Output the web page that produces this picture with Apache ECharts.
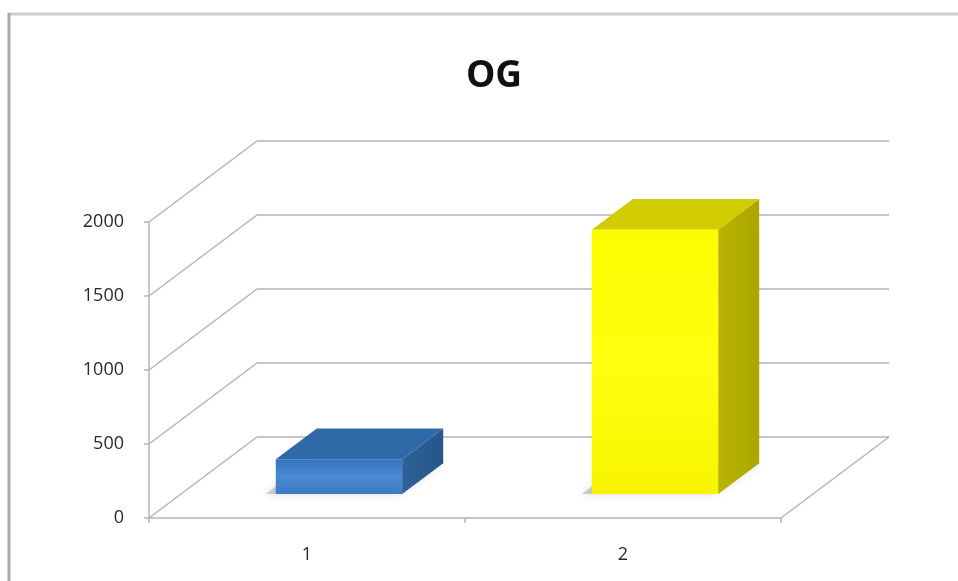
<!DOCTYPE html>
<html>
<head>
<meta charset="utf-8">
<script src="https://cdn.jsdelivr.net/npm/echarts@6/dist/echarts.min.js"></script>
<style>
html,body{margin:0;padding:0;background:#fff;}
#chart{width:958px;height:581px;}
</style>
</head>
<body>
<div id="chart"></div>
<script>
// ---- data ----
const categories = ['1', '2'];
const values = [235, 1785];
const yMin = 0, yMax = 2000, yInterval = 500;
const yTickValues = [0, 500, 1000, 1500, 2000];
const titleText = 'OG';

// ---- styles ----
const barStyles = [
  { front: ['#3674bc', '#4a8cd6', '#3a7ac2'], top: '#2f69a8', side: ['#2d6299', '#27558a'] },
  { front: ['#fcfc00', '#ffff10', '#f8f400'], top: '#d1cc00', side: ['#b8b400', '#aaa600'] }
];
const DX = 108, DY = -81;          // depth offset of back wall (px)
const BAR_Z0 = 0.296, BAR_DEPTH = 0.38, BAR_W = 0.40;
const LINE_COLOR = '#b4b4b4';
const FONT = "'Open Sans', 'Liberation Sans', sans-serif";

const G = { left: 149, right: 177, top: 222, bottom: 63 };

const chart = echarts.init(document.getElementById('chart'), null, { renderer: 'canvas' });

const option = {
  backgroundColor: '#ffffff',
  animation: false,
  title: {
    text: titleText, left: 489, textAlign: 'center', top: 53,
    textStyle: { fontFamily: FONT, fontWeight: 'bold', fontSize: 37, color: '#111' }
  },
  graphic: [
    { type: 'line', shape: { x1: 9, y1: 14, x2: 958, y2: 14 }, style: { stroke: '#cccccc', lineWidth: 3 }, silent: true },
    { type: 'line', shape: { x1: 9, y1: 13, x2: 9, y2: 581 }, style: { stroke: '#a9a9a9', lineWidth: 3 }, silent: true }
  ],
  grid: [
    { left: G.left, right: G.right, top: G.top, bottom: G.bottom },
    { left: G.left + DX, right: G.right - DX, top: G.top + DY, bottom: G.bottom - DY }
  ],
  xAxis: [
    {
      type: 'category', gridIndex: 0, data: categories,
      axisLine: { lineStyle: { color: LINE_COLOR, width: 1.5 } },
      axisTick: { show: true, length: 5, lineStyle: { color: LINE_COLOR, width: 1.5 } },
      axisLabel: { margin: 28, fontFamily: FONT, fontSize: 18, color: '#2a2a2a' },
      splitLine: { show: false }
    },
    {
      type: 'category', gridIndex: 1, data: categories, show: false
    }
  ],
  yAxis: [
    {
      type: 'value', gridIndex: 0, min: yMin, max: yMax, interval: yInterval,
      axisLine: { show: true, lineStyle: { color: LINE_COLOR, width: 1.5 } },
      axisTick: { show: true, length: 5, lineStyle: { color: LINE_COLOR, width: 1.5 } },
      axisLabel: { margin: 25, fontFamily: FONT, fontSize: 18, color: '#2a2a2a',
        formatter: function (v) { return String(v); } },
      splitLine: { show: false }
    },
    {
      type: 'value', gridIndex: 1, min: yMin, max: yMax, interval: yInterval,
      axisLine: { show: false }, axisTick: { show: false }, axisLabel: { show: false },
      splitLine: { show: true, lineStyle: { color: LINE_COLOR, width: 1.5 } }
    }
  ],
  series: [
    {
      // side-wall diagonals and floor right edge
      type: 'custom', xAxisIndex: 0, yAxisIndex: 0, silent: true, z: 1,
      data: yTickValues.map(v => [0, v]),
      renderItem: function (params, api) {
        const cs = params.coordSys;
        const v = api.value(1);
        const y = api.coord([0, v])[1];
        const children = [{
          type: 'line',
          shape: { x1: cs.x, y1: y, x2: cs.x + DX, y2: y + DY },
          style: { stroke: LINE_COLOR, lineWidth: 1.5 }
        }];
        if (v === yMin) {
          children.push({
            type: 'line',
            shape: { x1: cs.x + cs.width, y1: y, x2: cs.x + cs.width + DX, y2: y + DY },
            style: { stroke: LINE_COLOR, lineWidth: 1.5 }
          });
        }
        return { type: 'group', children: children };
      }
    },
    {
      type: 'custom', xAxisIndex: 0, yAxisIndex: 0, z: 5,
      data: values.map((v, i) => [i, v]),
      renderItem: function (params, api) {
        const c = api.value(0), v = api.value(1);
        const st = barStyles[params.dataIndex];
        const band = api.size([1, 0])[0];
        const base = api.coord([c, 0]);
        const top = api.coord([c, v]);
        const w = band * BAR_W;
        const ox = DX * BAR_Z0, oy = DY * BAR_Z0;
        const bdx = DX * BAR_DEPTH, bdy = DY * BAR_DEPTH;
        const x = base[0] + ox - w / 2;
        const yb = base[1] + oy;
        const yt = top[1] + oy;
        const h = yb - yt;
        return {
          type: 'group',
          children: [
            { // soft shadow on floor
              type: 'polygon',
              shape: { points: [[x - 10, yb], [x + w - 4, yb], [x + w + bdx, yb + bdy], [x + bdx - 10, yb + bdy]] },
              style: { fill: 'rgba(150,150,150,0.45)', shadowBlur: 8, shadowColor: 'rgba(120,120,120,0.6)' }
            },
            {
              type: 'polygon',
              shape: { points: [[x + w, yt], [x + w + bdx, yt + bdy], [x + w + bdx, yb + bdy], [x + w, yb]] },
              style: { fill: new echarts.graphic.LinearGradient(0, 0, 1, 0, [
                { offset: 0, color: st.side[0] }, { offset: 1, color: st.side[1] }]) }
            },
            {
              type: 'polygon',
              shape: { points: [[x, yt], [x + w, yt], [x + w + bdx, yt + bdy], [x + bdx, yt + bdy]] },
              style: { fill: st.top }
            },
            {
              type: 'rect',
              shape: { x: x, y: yt, width: w, height: h },
              style: { fill: new echarts.graphic.LinearGradient(0, 0, 0, 1, [
                { offset: 0, color: st.front[0] }, { offset: 0.5, color: st.front[1] }, { offset: 1, color: st.front[2] }]) }
            }
          ]
        };
      }
    }
  ]
};
chart.setOption(option);
</script>
</body>
</html>
